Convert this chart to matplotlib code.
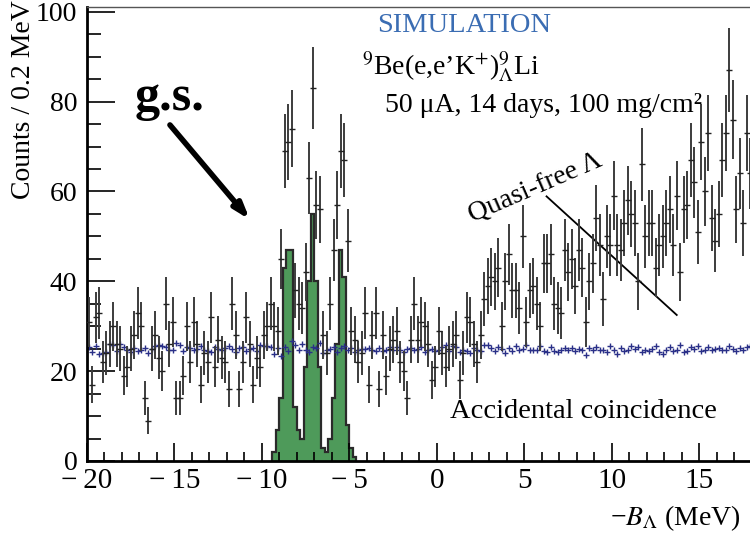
import numpy as np
import matplotlib
matplotlib.use("Agg")
import matplotlib.pyplot as plt
from matplotlib.ticker import FuncFormatter

plt.rcParams['font.family'] = ['Liberation Serif', 'DejaVu Serif']
plt.rcParams['mathtext.fontset'] = 'stix'

# histogram: -20 .. 18 MeV, 0.2 MeV bins
x_start = -20.0
bin_width = 0.2

# simulated spectrum (counts per bin)
counts = [
    31, 17, 32, 33, 22, 24, 26, 30, 26, 25,
    19, 21, 25, 28, 33, 30, 14, 9, 25, 28,
    23, 20, 35, 26, 31, 14, 14, 19, 30, 22,
    31, 26, 17, 24, 22, 32, 21, 27, 23, 22,
    16, 35, 28, 16, 22, 32, 26, 17, 23, 21,
    28, 30, 35, 30, 29, 45, 69, 71, 74, 38,
    35, 34, 42, 63, 83, 57, 56, 28, 24, 35,
    47, 57, 69, 67, 49, 29, 27, 22, 24, 33,
    17, 28, 33, 16, 28, 19, 25, 27, 29, 22,
    20, 14, 27, 35, 27, 31, 30, 26, 18, 21,
    29, 24, 21, 25, 26, 28, 18, 24, 32, 31,
    26, 22, 28, 36, 39, 41, 40, 43, 30, 40,
    46, 38, 38, 34, 50, 31, 38, 39, 35, 30,
    44, 44, 46, 35, 34, 33, 47, 42, 45, 39,
    47, 43, 31, 40, 44, 54, 48, 36, 50, 48,
    59, 48, 47, 53, 58, 55, 53, 40, 66, 50,
    53, 53, 43, 48, 50, 53, 56, 48, 59, 42,
    56, 57, 67, 62, 51, 71, 60, 73, 54, 49,
    55, 67, 73, 87, 76, 56, 64, 53, 73, 64,
]

# accidental coincidence background
accidental = [
    25.3, 24.2, 25.6, 23.9, 24.1, 24.3, 26.0, 25.8, 24.4, 26.0,
    25.4, 24.8, 24.3, 25.1, 24.5, 24.6, 25.2, 24.0, 24.9, 25.6,
    25.9, 25.6, 25.3, 24.6, 24.7, 26.2, 25.8, 24.4, 25.3, 25.1,
    24.7, 24.9, 25.6, 24.8, 24.5, 24.2, 25.4, 24.9, 24.7, 25.1,
    25.6, 25.0, 24.3, 25.1, 25.4, 24.4, 24.9, 25.1, 24.5, 25.8,
    25.7, 25.5, 25.4, 23.8, 25.1, 23.3, 25.3, 24.5, 26.6, 25.9,
    24.7, 26.0, 24.6, 24.2, 25.4, 25.2, 26.3, 24.0, 24.6, 25.0,
    25.4, 24.3, 25.1, 25.6, 24.6, 25.2, 24.2, 24.8, 25.0, 24.9,
    25.2, 24.7, 24.4, 25.1, 24.5, 24.6, 25.3, 24.7, 25.4, 24.8,
    24.3, 24.9, 25.1, 24.6, 25.0, 25.3, 24.3, 24.7, 24.9, 24.4,
    24.6, 25.4, 25.8, 24.5, 25.6, 25.3, 24.2, 24.8, 24.4, 24.1,
    25.2, 24.6, 24.4, 25.8, 25.9, 25.1, 24.5, 25.4, 24.9, 24.0,
    25.2, 24.5, 25.6, 24.6, 25.0, 25.8, 24.7, 24.6, 24.7, 25.6,
    24.5, 24.3, 25.3, 24.4, 24.3, 24.6, 25.1, 24.8, 25.2, 24.4,
    25.0, 24.8, 23.7, 25.2, 24.7, 25.4, 24.6, 24.8, 24.2, 25.5,
    24.6, 23.8, 25.1, 24.5, 24.7, 25.5, 24.9, 25.3, 24.2, 24.6,
    24.4, 25.0, 25.7, 24.3, 23.9, 24.7, 25.4, 24.5, 24.8, 25.9,
    24.2, 24.5, 25.4, 24.9, 25.6, 24.4, 24.6, 25.3, 24.7, 25.0,
    25.2, 24.8, 24.6, 25.5, 24.9, 24.4, 25.1, 24.7, 25.3, 25.6,
]

# hypernuclear states (g.s. and excited), bins starting at -9.4 MeV
peak_start = -9.4
peaks = [2, 7, 14, 43, 47, 47, 12, 7, 5, 21, 40, 55, 40, 21,
         3, 2, 5, 14, 26, 47, 41, 8, 3, 1]

x = x_start + bin_width * (np.arange(len(counts)) + 0.5)
counts = np.array(counts, dtype=float)
edges = peak_start + bin_width * np.arange(len(peaks) + 1)

fig = plt.figure(figsize=(7.5, 5.4), dpi=100)
ax = fig.add_axes([87 / 750, 79 / 540, 1 - 87 / 750, 454 / 540])

ax.stairs(peaks, edges, baseline=0, fill=True, color='#4e9a5a', zorder=1)
ax.stairs(peaks, edges, baseline=0, fill=False, color='#2a2a2a', lw=1.6, zorder=1.5)

ax.plot(x, accidental, '+', color='#2a3088', ms=4.5, mew=1.0, zorder=2)

ax.errorbar(x, counts, yerr=np.sqrt(counts), fmt='_', ms=4, mew=1,
            color='#222222', ecolor='#3c3c3c', elinewidth=1.4, capsize=0, zorder=3)

ax.set_xlim(-20, 17.886)
ax.set_ylim(0, 101.05)

ax.set_xticks(np.arange(-20, 18, 5))
ax.set_xticks(np.arange(-20, 18, 1), minor=True)
ax.set_yticks(np.arange(0, 101, 20))
ax.set_yticks(np.arange(0, 101, 5), minor=True)
# ROOT-like labels with a long minus sign
ax.xaxis.set_major_formatter(FuncFormatter(
    lambda v, p: ('\u2212\u2009%d' % abs(v)) if v < 0 else '%d' % v))
ax.tick_params(axis='both', which='both', direction='in', labelsize=20,
               top=False, right=False, width=1.2)
ax.tick_params(axis='x', which='major', length=13, pad=5, labelsize=21)
ax.tick_params(axis='x', which='minor', length=6.5)
ax.tick_params(axis='y', which='major', length=20, pad=7)
ax.tick_params(axis='y', which='minor', length=10)

ax.spines['left'].set_linewidth(2)
ax.spines['bottom'].set_linewidth(2)
ax.spines['top'].set_linewidth(1)
ax.spines['top'].set_color('#555555')
ax.spines['right'].set_visible(False)

# annotations
ax.text(-3.43, 95.5, 'SIMULATION', color='#3b6db3', fontsize=20.5, va='baseline')
ax.text(-4.29, 85.9, r"$^{9}$Be(e,e’K$^{+}$)$^{9}_{\Lambda}$Li", fontsize=20, va='baseline')
ax.text(-2.97, 77.7, '50 μA, 14 days, 100 mg/cm²', fontsize=20, va='baseline')
ax.text(-17.26, 78.1, 'g.s.', fontsize=36, fontweight='bold', va='baseline')
ax.annotate('', xy=(-10.69, 53.7), xytext=(-15.26, 74.8),
            arrowprops=dict(arrowstyle='-|>,head_length=0.9,head_width=0.3',
                            lw=4, color='black', shrinkA=0, shrinkB=0))
ax.text(5.6, 60.8, 'Quasi-free Λ', fontsize=20, rotation=23.5,
        ha='center', va='center', rotation_mode='anchor')
ax.plot([6.26, 13.70], [58.9, 32.5], color='black', lw=1.3)
ax.text(0.74, 9.6, 'Accidental coincidence', fontsize=20.5, va='baseline')

fig.text(0.032, 0.815, 'Counts / 0.2 MeV', rotation=90, fontsize=20,
         ha='center', va='center')
fig.text(0.987, 0.028, '\u2212' + r'$B_{\Lambda}$ (MeV)', fontsize=20,
         ha='right', va='baseline')

fig.savefig('out.png', dpi=100)
